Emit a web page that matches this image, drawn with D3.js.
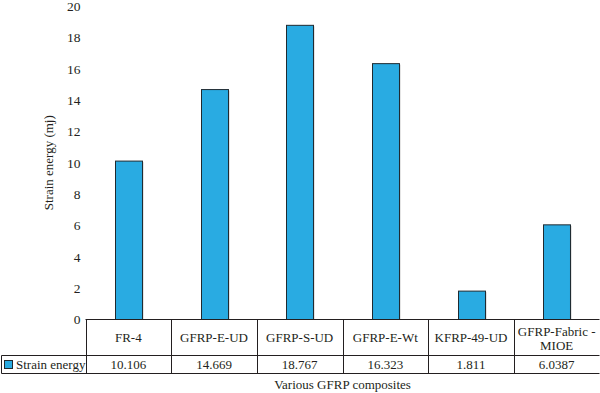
<!DOCTYPE html>
<head>
  <meta charset="utf-8">
  <title></title>
</head>
<style>
  body { margin: 0; background: white; }
  .grid line { stroke: #231f20; stroke-width: 1px; }
  .bars rect { fill: #29abe2; stroke: #1f2a30; stroke-width: 1px; }
  .shadow rect { fill: #c8c8c8; }
</style>
<body>
  <script src="https://cdn.jsdelivr.net/npm/d3@7"></script>
  <svg id="chart" width="600" height="393" style="font-family: 'Liberation Serif', serif;"></svg>
  <script>
    var categories = ["FR-4", "GFRP-E-UD", "GFRP-S-UD", "GFRP-E-Wt", "KFRP-49-UD", "GFRP-Fabric - MIOE"]
    var catLines = [["FR-4"], ["GFRP-E-UD"], ["GFRP-S-UD"], ["GFRP-E-Wt"], ["KFRP-49-UD"], ["GFRP-Fabric -", "MIOE"]]
    var values = [10.106, 14.669, 18.767, 16.323, 1.811, 6.0387]
    var valueLabels = ["10.106", "14.669", "18.767", "16.323", "1.811", "6.0387"]
    var yTicks = [0, 2, 4, 6, 8, 10, 12, 14, 16, 18, 20]
    var seriesName = "Strain energy"

    var serif = "'Liberation Serif', serif"
    var ink = "#231f20"
    var svg = d3.select("#chart")
    var plotL = 85.5, plotR = 599.5, plotT = 6, base = 319.5
    var row1 = 355.5, row2 = 373.5

    var x = d3.scaleBand().domain(categories).range([plotL, plotR]).paddingInner(0).paddingOuter(0)
    var y = d3.scaleLinear().domain([0, 20]).range([base, plotT])
    var bw = x.bandwidth() * 0.315

    // y axis (labels only)
    var yAxis = svg.append("g")
      .attr("transform", "translate(" + (plotL - 5) + ",0)")
      .call(d3.axisLeft(y).tickValues(yTicks).tickSize(0).tickPadding(0))
    yAxis.attr("font-family", null).attr("font-size", null)
    yAxis.select(".domain").remove()
    yAxis.selectAll("text").style("font-size", "13.5px").style("font-family", serif).attr("fill", ink)

    svg.append("text")
      .attr("transform", "translate(53," + ((plotT + base) / 2) + ") rotate(-90)")
      .attr("text-anchor", "middle")
      .style("font-size", "13px").style("font-family", serif).attr("fill", ink)
      .text("Strain energy (mj)")

    // faint bar shadows then bars
    svg.append("g").attr("class", "shadow").selectAll("rect")
      .data(values).enter().append("rect")
      .attr("x", (d, i) => Math.round(x(categories[i]) + (x.bandwidth() - bw) / 2) + 1.5)
      .attr("y", d => y(d) + 1)
      .attr("width", bw)
      .attr("height", d => base - y(d) - 1)

    svg.append("g").attr("class", "bars").selectAll("rect")
      .data(values).enter().append("rect")
      .attr("x", (d, i) => Math.round(x(categories[i]) + (x.bandwidth() - bw) / 2) + 0.5)
      .attr("y", d => y(d))
      .attr("width", bw)
      .attr("height", d => base - y(d))

    // data table
    var grid = svg.append("g").attr("class", "grid")
    grid.append("line").attr("x1", plotL).attr("x2", plotR).attr("y1", base).attr("y2", base)
    grid.append("line").attr("x1", 1.5).attr("x2", plotR).attr("y1", row1).attr("y2", row1)
    grid.append("line").attr("x1", 1.5).attr("x2", plotR).attr("y1", row2).attr("y2", row2)
    grid.append("line").attr("x1", 1.5).attr("x2", 1.5).attr("y1", row1).attr("y2", row2)
    var edges = categories.map(c => x(c)).concat([plotR])
    grid.selectAll(".col").data(edges).enter().append("line")
      .attr("x1", d => Math.round(d) + 0.5).attr("x2", d => Math.round(d) + 0.5)
      .attr("y1", base).attr("y2", row2)

    svg.append("g").selectAll("text")
      .data(catLines).enter().append("text")
      .attr("x", (d, i) => x(categories[i]) + x.bandwidth() / 2)
      .attr("y", d => d.length > 1 ? 336 : 341.5)
      .attr("text-anchor", "middle")
      .style("font-size", "13px").style("font-family", serif).attr("fill", ink)
      .each(function (d) {
        var t = d3.select(this)
        d.forEach((s, k) => t.append("tspan").attr("x", t.attr("x")).attr("dy", k ? 13.5 : 0).text(s))
      })

    svg.append("g").selectAll("text")
      .data(valueLabels).enter().append("text")
      .attr("x", (d, i) => x(categories[i]) + x.bandwidth() / 2)
      .attr("y", row2 - 4.5)
      .attr("text-anchor", "middle")
      .style("font-size", "13px").style("font-family", serif).attr("fill", ink)
      .text(d => d)

    // legend cell
    svg.append("rect")
      .attr("x", 4.5).attr("y", 360.5).attr("width", 8).attr("height", 8)
      .attr("fill", "#29abe2").attr("stroke", "#1f2a30")
    svg.append("text")
      .attr("x", 16).attr("y", row2 - 4.5)
      .style("font-size", "13px").style("font-family", serif).attr("fill", ink)
      .text(seriesName)

    svg.append("text")
      .attr("x", (plotL + plotR) / 2).attr("y", 389)
      .attr("text-anchor", "middle")
      .style("font-size", "13px").style("font-family", serif).attr("fill", ink)
      .text("Various GFRP composites")
  </script>
</body>
</html>
